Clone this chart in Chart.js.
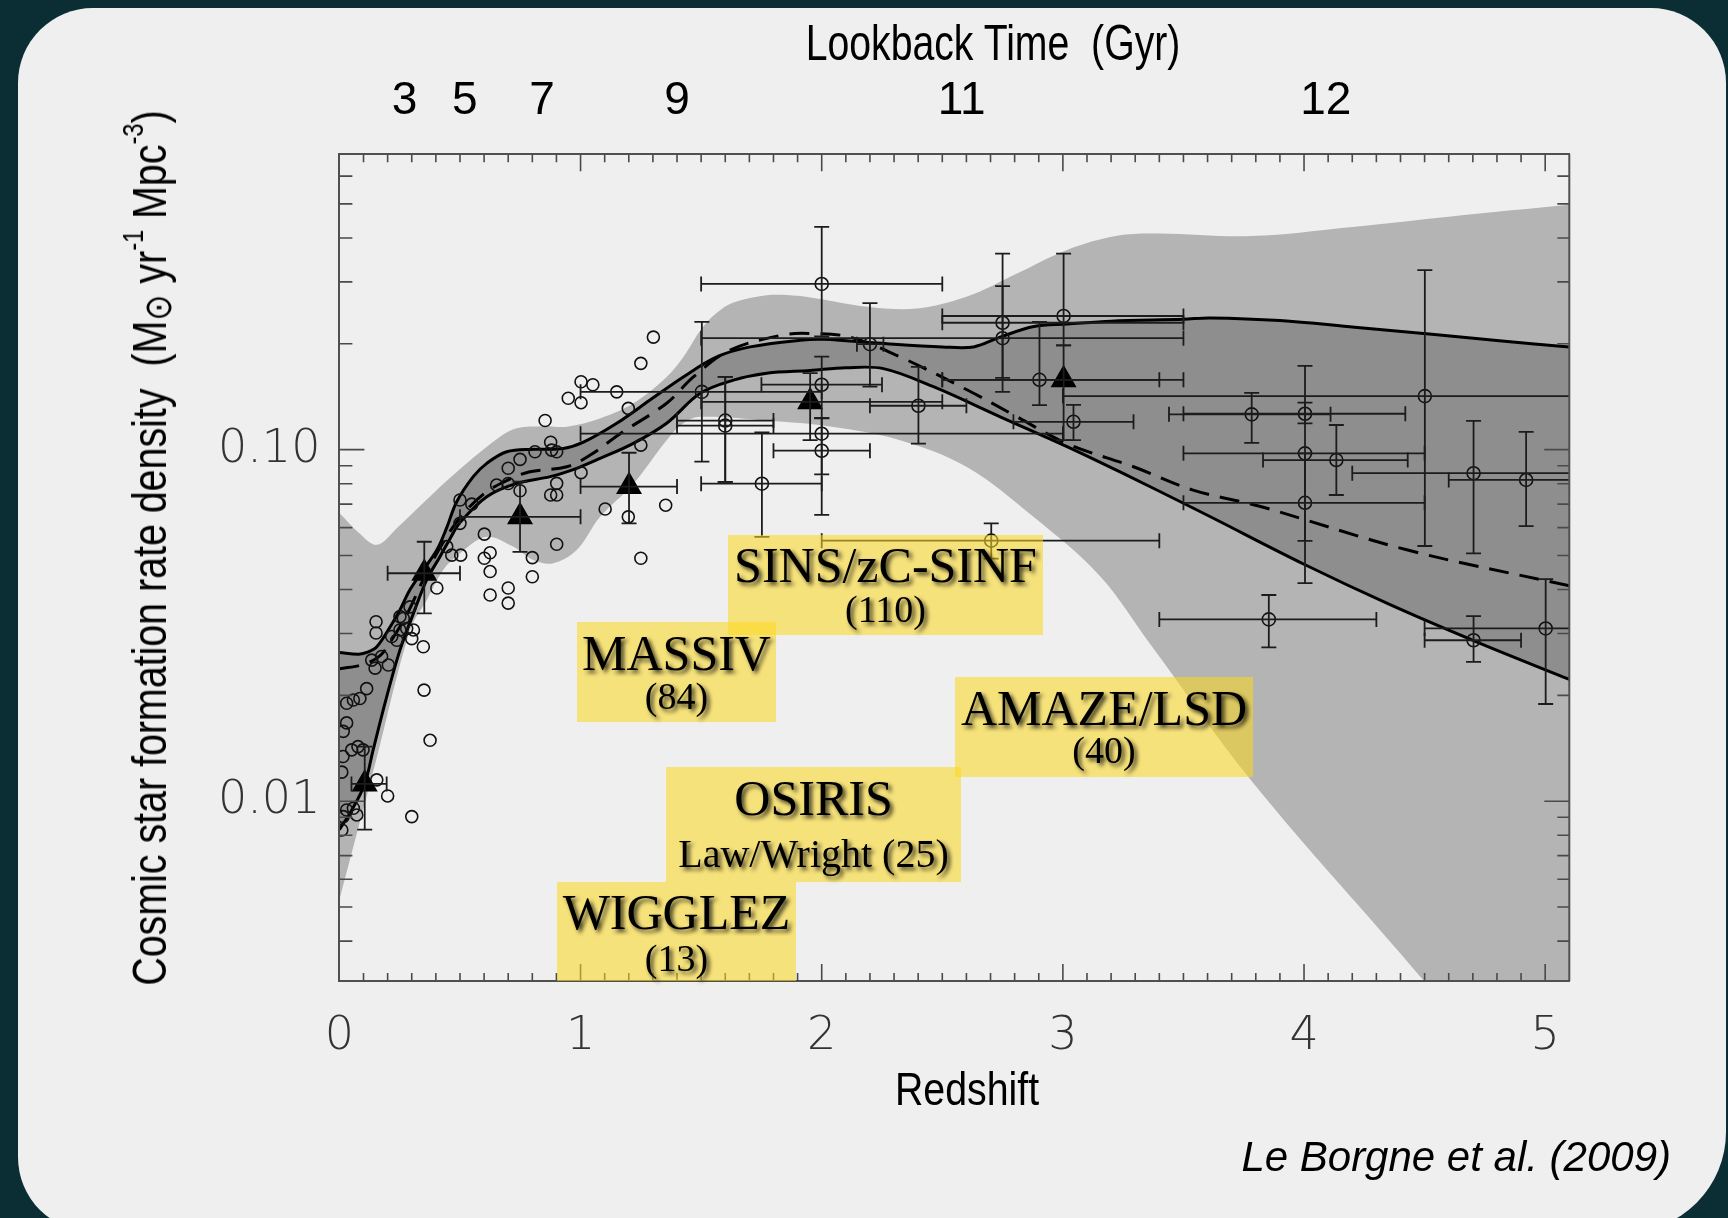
<!DOCTYPE html>
<html>
<head>
<meta charset="utf-8">
<title>Cosmic star formation history</title>
<script src="https://cdn.jsdelivr.net/npm/chart.js"></script>
<style>
  html, body { margin: 0; padding: 0; width: 1728px; height: 1218px; overflow: hidden; background: #0a2e33; }
  #panel { position: absolute; left: 18px; top: 8px; width: 1708px; height: 1224px; background: #efefef;
           border-radius: 75px 75px 100px 75px; }
  #sfr { position: absolute; left: 0; top: 0; }
  .axis-title { position: absolute; white-space: nowrap; color: #000; transform-origin: 0 0;
                font-family: "Liberation Sans", Arial, sans-serif; }
  .axis-title sup { font-size: 0.6em; line-height: 0; vertical-align: 0.8em; }
  .axis-title sub { font-size: 0.8em; line-height: 0; vertical-align: -0.12em; }
  .tag { position: absolute; background: rgba(252, 216, 30, 0.56); }
  .tag div { position: absolute; left: 0; width: 100%; text-align: center; white-space: nowrap;
             font-family: "Liberation Serif", "Times New Roman", serif; color: #000;
             text-shadow: 3px 3px 4px rgba(0, 0, 0, 0.75); }
  .big { font-size: 50px; line-height: 50px; }
  .small { font-size: 38px; line-height: 38px; }
  #credit { position: absolute; right: 57px; top: 1136px; font: italic 42px/42px "Liberation Sans", Arial, sans-serif; color: #000; }
</style>
</head>
<body>
<div id="panel"></div>
<canvas id="sfr" width="1728" height="1218"></canvas>

<div class="axis-title" style="left:993px;top:17.7px;font-size:50px;line-height:50px;transform:scaleX(0.784) translateX(-50%)">Lookback Time&nbsp;&nbsp;(Gyr)</div>
<div class="axis-title" style="left:967px;top:1065px;font-size:47px;line-height:47px;transform:scaleX(0.836) translateX(-50%)">Redshift</div>
<div class="axis-title" style="left:150px;top:548px;font-size:48px;line-height:48px;transform:rotate(-90deg) scaleX(0.82) translate(-50%,-50%)">Cosmic star formation rate density&nbsp;&nbsp;(M<sub>&#x2299;</sub> yr<sup>-1</sup> Mpc<sup>-3</sup>)</div>

<div class="tag" style="left:728px;top:534.5px;width:315px;height:100px">
  <div class="big" style="top:5px">SINS/zC-SINF</div>
  <div class="small" style="top:55px">(110)</div>
</div>
<div class="tag" style="left:577px;top:622px;width:199px;height:100px">
  <div class="big" style="top:6px">MASSIV</div>
  <div class="small" style="top:55px">(84)</div>
</div>
<div class="tag" style="left:955px;top:677px;width:298px;height:100px">
  <div class="big" style="top:6px">AMAZE/LSD</div>
  <div class="small" style="top:54px">(40)</div>
</div>
<div class="tag" style="left:666px;top:767px;width:295px;height:115px">
  <div class="big" style="top:6px">OSIRIS</div>
  <div class="small" style="top:67px;font-size:40px;line-height:40px">Law/Wright (25)</div>
</div>
<div class="tag" style="left:557px;top:882px;width:239px;height:99px">
  <div class="big" style="top:5px">WIGGLEZ</div>
  <div class="small" style="top:57px">(13)</div>
</div>
<div id="credit">Le Borgne et al. (2009)</div>

<script>
// ---- axis ticks ----
const lookbackLabels = ['3', '5', '7', '9', '11', '12'];
const lookbackZ = [0.27, 0.52, 0.84, 1.40, 2.58, 4.09];
const yTickLabels = [[0.01, '0.01'], [0.1, '0.10']];

// ---- envelope of the inversion (light band): [redshift, SFR density] ----
const envelopeTop = [[0,0.066],[0.08,0.058],[0.155,0.0536],[0.24,0.060],[0.39,0.0752],[0.528,0.0914],
  [0.666,0.1088],[0.735,0.115],[0.85,0.1165],[0.943,0.1162],[1.08,0.1227],[1.219,0.1355],[1.357,0.161],
  [1.43,0.185],[1.50,0.22],[1.565,0.245],[1.634,0.262],[1.772,0.275],[1.90,0.274],[1.98,0.269],
  [2.187,0.255],[2.394,0.252],[2.60,0.272],[2.81,0.317],[3.017,0.370],[3.224,0.406],[3.40,0.412],
  [3.78,0.405],[4.20,0.43],[4.60,0.46],[5.10,0.497]];
const envelopeBottom = [[0,0.00524],[0.15,0.0129],[0.293,0.0307],[0.362,0.0373],[0.431,0.0455],[0.50,0.0507],
  [0.61,0.0565],[0.72,0.053],[0.804,0.0485],[0.887,0.0475],[0.984,0.0518],[1.081,0.0644],[1.219,0.080],
  [1.357,0.1064],[1.426,0.1188],[1.496,0.124],[1.772,0.121],[2.049,0.116],[2.325,0.1064],[2.60,0.0894],
  [2.878,0.0644],[3.155,0.0436],[3.362,0.028],[3.79,0.01125],[4.494,0.0031],[4.8,0.0017],[5.10,0.0009]];

// ---- best-fit history: upper / lower solid curves and dashed curve ----
const historyHigh = [[0,0.0265],[0.08,0.0262],[0.12,0.0266],[0.155,0.0275],[0.21,0.0313],[0.251,0.035],
  [0.293,0.040],[0.348,0.0455],[0.404,0.0518],[0.445,0.060],[0.486,0.071],[0.555,0.0838],[0.611,0.0914],
  [0.694,0.0986],[0.804,0.1002],[0.929,0.1008],[1.012,0.105],[1.15,0.1188],[1.288,0.1384],[1.426,0.161],
  [1.565,0.1836],[1.703,0.196],[1.911,0.2048],[2.007,0.206],[2.27,0.200],[2.50,0.196],[2.63,0.196],
  [2.74,0.209],[2.88,0.224],[3.02,0.2276],[3.20,0.232],[3.50,0.235],[3.61,0.237],[3.90,0.233],
  [4.21,0.223],[4.53,0.213],[4.81,0.204],[5.10,0.196]];
const historyLow = [[0,0.0083],[0.05,0.0094],[0.105,0.0112],[0.14,0.014],[0.196,0.0198],[0.251,0.0269],
  [0.307,0.0342],[0.362,0.0426],[0.417,0.0496],[0.46,0.056],[0.50,0.062],[0.611,0.0735],[0.735,0.0802],
  [0.874,0.0838],[0.984,0.0885],[1.081,0.0944],[1.219,0.1042],[1.357,0.1189],[1.496,0.1446],[1.634,0.1577],
  [1.772,0.165],[1.952,0.168],[2.10,0.171],[2.256,0.170],[2.463,0.151],[2.74,0.124],[3.017,0.102],
  [3.254,0.0853],[3.50,0.0704],[3.62,0.064],[4.00,0.0472],[4.35,0.0364],[4.72,0.0283],[5.10,0.0222]];
const historyDashed = [[0,0.0238],[0.1,0.0245],[0.17,0.026],[0.22,0.029],[0.28,0.034],[0.35,0.043],
  [0.42,0.053],[0.5,0.064],[0.6,0.075],[0.7,0.082],[0.79,0.0865],[0.943,0.0894],[1.04,0.0965],
  [1.164,0.111],[1.357,0.1355],[1.468,0.161],[1.62,0.192],[1.84,0.212],[1.952,0.214],[2.118,0.209],
  [2.325,0.1836],[2.602,0.148],[2.81,0.124],[3.017,0.104],[3.293,0.0894],[3.54,0.0767],[3.82,0.0689],
  [4.43,0.0518],[5.10,0.041]];

// ---- compilation measurements (open circles, no error bars) ----
const compilation = [[1.302,0.209],[1.250,0.176],[1.002,0.156],[1.051,0.153],[1.150,0.146],[0.949,0.140],
  [1.002,0.136],[0.853,0.121],[1.198,0.131],[0.876,0.105],[0.901,0.0986],[0.880,0.0997],[0.811,0.0986],
  [0.749,0.0938],[0.700,0.0885],[1.250,0.103],[1.002,0.086],[0.652,0.0793],[0.700,0.0801],[0.749,0.0764],
  [0.876,0.0743],[0.901,0.0743],[0.901,0.0802],[0.500,0.0719],[0.549,0.070],[0.500,0.0617],[1.102,0.0678],
  [1.353,0.0695],[1.198,0.0644],[0.901,0.0538],[0.601,0.0575],[1.250,0.0491],[0.445,0.053],[0.466,0.0501],
  [0.503,0.0501],[0.601,0.0491],[0.625,0.0509],[0.625,0.045],[0.800,0.0493],[0.800,0.0435],[0.700,0.0404],
  [0.700,0.0366],[0.625,0.0386],[0.404,0.0404],[0.152,0.0324],[0.152,0.0301],[0.134,0.0252],[0.175,0.0258],
  [0.148,0.0239],[0.203,0.0244],[0.217,0.0294],[0.251,0.0307],[0.279,0.031],[0.307,0.0307],[0.238,0.0287],
  [0.300,0.029],[0.265,0.0331],[0.293,0.0357],[0.251,0.0335],[0.348,0.0275],[0.351,0.0207],[0.376,0.0149],
  [0.113,0.0209],[0.085,0.0196],[0.058,0.0194],[0.030,0.019],[0.030,0.0167],[0.016,0.0158],[0.077,0.0143],
  [0.098,0.014],[0.051,0.014],[0.015,0.0134],[0.010,0.0121],[0.155,0.0115],[0.200,0.01035],[0.300,0.00904],
  [0.030,0.00944],[0.058,0.00955],[0.016,0.00904],[0.010,0.00828],[0.072,0.00914]];

// ---- measurements with error bars: [z, sfrd, zLow, zHigh, sfrdLow, sfrdHigh] ----
const withErrors = [
  [1.503,0.146,1.0,2.0,0.0924,0.231], [1.60,0.121,1.4,1.8,0.081,0.161], [1.60,0.117,1.4,1.8,0.081,0.161],
  [1.752,0.080,1.5,2.0,0.0565,0.112], [2.0,0.296,1.5,2.5,0.21,0.43], [2.0,0.153,1.75,2.25,0.123,0.184],
  [2.0,0.111,1.0,3.0,0.085,0.123], [2.0,0.0993,1.8,2.2,0.0652,0.1227], [2.2,0.1995,2.146,2.256,0.151,0.261],
  [2.401,0.1333,2.2,2.6,0.104,0.172], [2.703,0.0551,2.0,3.4,0.049,0.0617], [2.75,0.2296,2.5,3.5,0.16,0.361],
  [2.75,0.2075,1.5,3.5,0.146,0.292], [2.903,0.158,2.5,3.4,0.1338,0.231], [3.003,0.24,2.5,3.5,0.198,0.361],
  [3.044,0.12,2.795,3.293,0.1065,0.134], [4.501,0.142,3.0,5.2,0.0532,0.324], [3.783,0.126,3.44,4.11,0.1045,0.145],
  [4.004,0.1265,3.5,4.42,0.1187,0.173], [4.004,0.0976,3.5,4.5,0.055,0.136], [4.134,0.0934,3.83,4.43,0.0743,0.1175],
  [4.004,0.0706,3.5,4.5,0.0417,0.0976], [3.854,0.0329,3.40,4.30,0.0274,0.0386], [4.703,0.0857,4.2,5.2,0.0507,0.1208],
  [4.921,0.082,4.6,5.2,0.0606,0.1124], [4.703,0.0287,4.5,4.9,0.0249,0.0336], [5.002,0.031,4.5,5.2,0.0189,0.0428]];

// ---- triangles with error bars: [z, sfrd, zLow, zHigh, sfrdLow, sfrdHigh] ----
const triangles = [
  [0.105,0.0112,0.05,0.196,0.0083,0.0143], [0.352,0.0445,0.2,0.5,0.0342,0.0547],
  [0.749,0.0644,0.5,1.0,0.0512,0.0811], [1.201,0.0785,1.0,1.4,0.0617,0.098],
  [1.952,0.1368,1.5,2.5,0.1065,0.165], [3.003,0.158,2.5,3.5,0.1065,0.198]];

const xy = pts => pts.map(p => ({x: p[0], y: p[1]}));

const SANS = '"Liberation Sans", Arial, sans-serif';
const THIN = '"DejaVu Sans", Roboto, sans-serif';

// error bars with end caps, placed through the chart scales
const errorBars = {
  id: 'errorBars',
  afterDatasetsDraw(chart) {
    const {ctx, chartArea: a, scales: {x, y}} = chart;
    const cap = 7.5;
    ctx.save();
    ctx.beginPath();
    ctx.rect(a.left, a.top, a.right - a.left, a.bottom - a.top);
    ctx.clip();
    ctx.strokeStyle = '#1c1c1c';
    ctx.lineWidth = 1.8;
    for (const set of [withErrors, triangles]) {
      for (const [z, v, zl, zh, vl, vh] of set) {
        const px = x.getPixelForValue(z), py = y.getPixelForValue(v);
        const x0 = x.getPixelForValue(zl), x1 = x.getPixelForValue(zh);
        const y0 = y.getPixelForValue(vl), y1 = y.getPixelForValue(vh);
        ctx.beginPath();
        ctx.moveTo(x0, py); ctx.lineTo(x1, py);
        ctx.moveTo(x0, py - cap); ctx.lineTo(x0, py + cap);
        ctx.moveTo(x1, py - cap); ctx.lineTo(x1, py + cap);
        ctx.moveTo(px, y0); ctx.lineTo(px, y1);
        ctx.moveTo(px - cap, y0); ctx.lineTo(px + cap, y0);
        ctx.moveTo(px - cap, y1); ctx.lineTo(px + cap, y1);
        ctx.stroke();
      }
    }
    ctx.restore();
  }
};

// inward tick marks on all four sides plus the right-hand frame line
const frameTicks = {
  id: 'frameTicks',
  afterDraw(chart) {
    const {ctx, chartArea: a, scales: {x, y}} = chart;
    ctx.save();
    ctx.strokeStyle = '#4a4a4a';
    ctx.lineWidth = 1.6;
    ctx.beginPath();
    for (const t of x.ticks) {
      const px = x.getPixelForValue(t.value);
      if (px < a.left + 1 || px > a.right - 1) continue;
      const major = Math.abs(t.value - Math.round(t.value)) < 1e-6;
      ctx.moveTo(px, a.bottom); ctx.lineTo(px, a.bottom - (major ? 17 : 8));
      ctx.moveTo(px, a.top); ctx.lineTo(px, a.top + (major ? 17 : 8));
    }
    for (const t of y.ticks) {
      const v = t.value;
      const e = Math.floor(Math.log10(v) + 1e-9);
      const m = v / Math.pow(10, e);
      if (Math.abs(m - Math.round(m)) > 1e-6) continue;
      const py = y.getPixelForValue(v);
      if (py < a.top + 1 || py > a.bottom - 1) continue;
      const major = Math.round(m) === 1;
      ctx.moveTo(a.left, py); ctx.lineTo(a.left + (major ? 25 : 13), py);
      ctx.moveTo(a.right, py); ctx.lineTo(a.right - (major ? 25 : 12), py);
    }
    ctx.stroke();
    ctx.strokeStyle = '#505050';
    ctx.lineWidth = 2;
    ctx.beginPath();
    ctx.moveTo(a.right, a.top); ctx.lineTo(a.right, a.bottom);
    ctx.stroke();
    ctx.restore();
  }
};

const lineBase = {pointRadius: 0, showLine: true, tension: 0.35, xAxisID: 'x', yAxisID: 'y'};

new Chart(document.getElementById('sfr'), {
  type: 'line',
  data: {
    datasets: [
      Object.assign({}, lineBase, {label: 'envelope', data: xy(envelopeTop), borderWidth: 0,
        fill: '+1', backgroundColor: '#b4b4b4', order: 7}),
      Object.assign({}, lineBase, {label: 'envelope lower', data: xy(envelopeBottom), borderWidth: 0,
        fill: false, order: 7}),
      Object.assign({}, lineBase, {label: 'upper history', data: xy(historyHigh), borderWidth: 3,
        borderColor: '#000', fill: '+1', backgroundColor: '#8e8e8e', order: 5}),
      Object.assign({}, lineBase, {label: 'lower history', data: xy(historyLow), borderWidth: 3,
        borderColor: '#000', fill: false, order: 4}),
      Object.assign({}, lineBase, {label: 'dashed history', data: xy(historyDashed), borderWidth: 3,
        borderColor: '#000', borderDash: [20, 11], fill: false, order: 3}),
      {label: 'compilation', data: xy(compilation), showLine: false, pointStyle: 'circle', pointRadius: 6,
        pointBorderWidth: 1.6, pointBorderColor: '#111', pointBackgroundColor: 'rgba(0,0,0,0)', order: 2},
      {label: 'with errors', data: xy(withErrors), showLine: false, pointStyle: 'circle', pointRadius: 6.5,
        pointBorderWidth: 1.6, pointBorderColor: '#111', pointBackgroundColor: 'rgba(0,0,0,0)', order: 1},
      {label: 'triangles', data: xy(triangles), showLine: false, pointStyle: 'triangle', pointRadius: 15,
        pointBorderWidth: 0, pointBorderColor: '#000', pointBackgroundColor: '#000', order: 0}
    ]
  },
  options: {
    responsive: false,
    animation: false,
    events: [],
    layout: {padding: {left: 110, right: 158.7, top: 10, bottom: 87}},
    plugins: {legend: {display: false}, tooltip: {enabled: false}},
    scales: {
      x: {
        type: 'linear', position: 'bottom', min: 0, max: 5.1,
        afterFit: s => { s.height = 150; },
        grid: {display: false, drawTicks: false},
        border: {display: true, color: '#505050', width: 2, z: 1},
        ticks: {stepSize: 0.1, autoSkip: false, maxRotation: 0, padding: 28, color: '#333',
          font: {family: THIN, size: 46, weight: '200'},
          callback: v => Math.abs(v - Math.round(v)) < 1e-6 ? String(Math.round(v)) : ''}
      },
      x2: {
        type: 'linear', position: 'top', min: 0, max: 5.1,
        afterFit: s => { s.height = 144.3; },
        afterBuildTicks: s => { s.ticks = lookbackZ.map(v => ({value: v})); },
        grid: {display: false, drawTicks: false},
        border: {display: true, color: '#505050', width: 2, z: 1},
        ticks: {autoSkip: false, maxRotation: 0, padding: 25, color: '#000',
          font: {family: SANS, size: 46},
          callback: (v, i) => lookbackLabels[i]}
      },
      y: {
        type: 'logarithmic', position: 'left', min: 0.00308, max: 0.692,
        afterFit: s => { s.width = 229.4; },
        grid: {display: false, drawTicks: false},
        border: {display: true, color: '#505050', width: 2, z: 1},
        ticks: {autoSkip: false, padding: 19, color: '#333',
          font: {family: THIN, size: 46, weight: '200'},
          callback: v => { const hit = yTickLabels.find(t => Math.abs(v - t[0]) < 1e-9); return hit ? hit[1] : ''; }}
      }
    }
  },
  plugins: [errorBars, frameTicks]
});
</script>
</body>
</html>
